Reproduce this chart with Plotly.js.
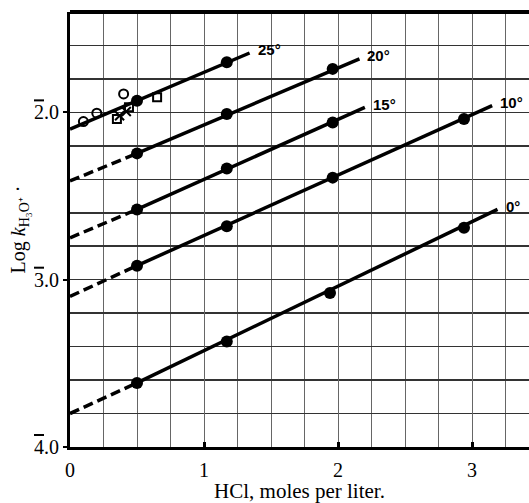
<!DOCTYPE html>
<html>
<head>
<meta charset="utf-8">
<script src="https://cdn.plot.ly/plotly-3.0.1.min.js"></script>
<style>html,body{margin:0;padding:0;overflow:hidden;background:#fff}</style>
</head>
<body>
<div id="chart" style="width:529px;height:503px"></div>
<script>
// Temperature series (HCl molarity vs log k)
const tempLabels = ["25°", "20°", "15°", "10°", "0°"];
const fitStartY = [-2.10, -2.41, -2.75, -3.10, -3.80];   // intercept at HCl = 0
const fitEndX   = [1.34, 2.16, 2.20, 3.15, 3.19];
const fitEndY   = [-1.645, -1.68, -1.97, -1.96, -2.58];
const dashedToFirst = [false, true, true, true, true];

const dots25X = [0.50, 1.17];
const dots25Y = [-1.93, -1.70];
const dots20X = [0.50, 1.17, 1.96];
const dots20Y = [-2.245, -2.01, -1.74];
const dots15X = [0.50, 1.17, 1.96];
const dots15Y = [-2.58, -2.335, -2.06];
const dots10X = [0.50, 1.17, 1.96, 2.94];
const dots10Y = [-2.916, -2.68, -2.39, -2.04];
const dots0X  = [0.50, 1.17, 1.94, 2.94];
const dots0Y  = [-3.617, -3.37, -3.08, -2.69];

// other workers' data near 25°
const openCircX = [0.10, 0.20, 0.40];
const openCircY = [-2.055, -2.005, -1.89];
const openSqX = [0.35, 0.44, 0.65];
const openSqY = [-2.04, -1.97, -1.91];
const crossX = [0.37, 0.42];
const crossY = [-2.02, -1.995];

const xTickVals = [0, 1, 2, 3];
const xTickText = ["0", "1", "2", "3"];
const yTickVals = [-4, -3, -2];
const yTickInt = ["4", "3", "2"];

const dotsX = [dots25X, dots20X, dots15X, dots10X, dots0X];
const dotsY = [dots25Y, dots20Y, dots15Y, dots10Y, dots0Y];

const yTickText = yTickInt.map(d => '<span style="text-decoration:overline">' + d + '</span>.0');

const traces = [];
const annotations = [];
const LW = 3.5;
for (let i = 0; i < tempLabels.length; i++) {
  const dx = dotsX[i], dy = dotsY[i];
  if (dashedToFirst[i]) {
    traces.push({x: [0, dx[0]], y: [fitStartY[i], dy[0]], mode: 'lines',
      line: {color: '#000', width: LW, dash: '10px,5px'}, hoverinfo: 'skip', showlegend: false});
    traces.push({x: [dx[0], fitEndX[i]], y: [dy[0], fitEndY[i]], mode: 'lines',
      line: {color: '#000', width: LW}, hoverinfo: 'skip', showlegend: false});
  } else {
    traces.push({x: [0, fitEndX[i]], y: [fitStartY[i], fitEndY[i]], mode: 'lines',
      line: {color: '#000', width: LW}, hoverinfo: 'skip', showlegend: false});
  }
  traces.push({x: dx, y: dy, mode: 'markers', marker: {color: '#000', size: 12, symbol: 'circle'},
    showlegend: false, name: tempLabels[i]});
  annotations.push({x: fitEndX[i], y: fitEndY[i], xref: 'x', yref: 'y', text: tempLabels[i],
    showarrow: false, xanchor: 'left', yanchor: 'middle', xshift: 6, yshift: 3,
    font: {family: 'Liberation Sans', size: 15, color: '#000', weight: 'bold'}});
}
traces.push({x: openCircX, y: openCircY, mode: 'markers',
  marker: {symbol: 'circle-open', size: 9, color: '#000', line: {width: 2}}, showlegend: false});
traces.push({x: openSqX, y: openSqY, mode: 'markers',
  marker: {symbol: 'square-open', size: 8, color: '#000', line: {width: 2}}, showlegend: false});
traces.push({x: crossX, y: crossY, mode: 'markers',
  marker: {symbol: 'x-thin-open', size: 9, color: '#000', line: {width: 2}}, showlegend: false});

const serif = 'Liberation Serif, Times New Roman, serif';
const layout = {
  width: 529, height: 503,
  margin: {l: 70, r: 0, t: 12, b: 56},
  paper_bgcolor: '#fff', plot_bgcolor: '#fff',
  showlegend: false,
  font: {family: serif, color: '#000'},
  xaxis: {
    range: [0, 3.425], tickmode: 'array', tickvals: xTickVals, ticktext: xTickText,
    ticks: 'inside', ticklen: 5, tickwidth: 3, tickcolor: '#000',
    showline: true, linewidth: 3, linecolor: '#000',
    showgrid: true, gridcolor: '#666', gridwidth: 1,
    minor: {tickmode: 'linear', tick0: 0, dtick: 0.25, showgrid: true, gridcolor: '#666', gridwidth: 1, ticks: ''},
    zeroline: false, tickfont: {family: serif, size: 20, color: '#000'},
    ticklabelstandoff: 3,
    title: {text: 'HCl, moles per liter.', font: {family: serif, size: 21, color: '#000'}, standoff: 9}
  },
  yaxis: {
    range: [-4, -1.4], tickmode: 'array', tickvals: yTickVals, ticktext: yTickText,
    ticks: 'outside', ticklen: 4, tickwidth: 2, tickcolor: '#000',
    showline: true, linewidth: 3, linecolor: '#000',
    showgrid: true, gridcolor: '#333', gridwidth: 1.5,
    minor: {tickmode: 'linear', tick0: -4, dtick: 0.2, showgrid: true, gridcolor: '#333', gridwidth: 1.5, ticks: ''},
    zeroline: false, tickfont: {family: serif, size: 20, color: '#000'},
    title: {text: 'Log <i>k</i><sub>H₃O⁺</sub> ·', font: {family: serif, size: 20, color: '#000'}, standoff: 4}
  },
  shapes: [{type: 'line', xref: 'paper', yref: 'paper', x0: 0, x1: 1, y0: 1, y1: 1,
    line: {color: '#000', width: 4}}],
  annotations: annotations
};
Plotly.newPlot('chart', traces, layout, {staticPlot: true, displayModeBar: false});
</script>
</body>
</html>
